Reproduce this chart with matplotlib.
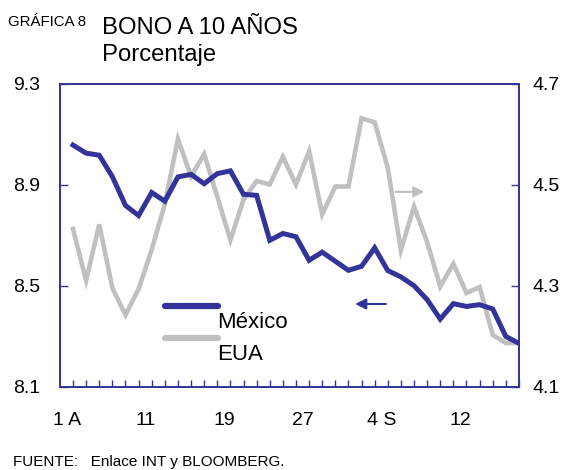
import numpy as np
import matplotlib
matplotlib.use('Agg')
import matplotlib.pyplot as plt
from matplotlib.lines import Line2D

plt.rcParams['font.family'] = ['Liberation Sans', 'DejaVu Sans']

# Bono a 10 años, datos diarios (agosto - septiembre)
mexico = [9.058, 9.026, 9.018, 8.933, 8.819, 8.779, 8.870, 8.836, 8.932, 8.942,
          8.905, 8.945, 8.956, 8.863, 8.859, 8.681, 8.708, 8.695, 8.602, 8.634,
          8.598, 8.562, 8.578, 8.651, 8.561, 8.536, 8.501, 8.446, 8.369, 8.430,
          8.419, 8.426, 8.409, 8.300, 8.273]
eua = [4.413, 4.311, 4.422, 4.296, 4.243, 4.294, 4.372, 4.462, 4.591, 4.517,
       4.561, 4.477, 4.391, 4.471, 4.508, 4.501, 4.556, 4.501, 4.567, 4.442,
       4.497, 4.497, 4.632, 4.624, 4.534, 4.371, 4.457, 4.387, 4.299, 4.344,
       4.286, 4.298, 4.203, 4.187, 4.187]
tick_idx = [0, 6, 12, 18, 24, 30]
tick_labels = ['1 A', '11', '19', '27', '4 S', '12']

azul = '#333399'
gris = '#c0c0c0'

fig = plt.figure(figsize=(5.65, 4.7), dpi=100)
ax = fig.add_axes([0.106, 0.1766, 0.8125, 0.6447])
ax2 = ax.twinx()

x = np.arange(len(mexico))
ax2.plot(x, eua, color=gris, lw=3.3, solid_joinstyle='miter', zorder=1)
ax.plot(x, mexico, color=azul, lw=3.6, solid_joinstyle='miter', zorder=2)
ax.set_zorder(ax2.get_zorder() + 1)
ax.patch.set_visible(False)

ax.set_xlim(-1, 34)
ax.set_ylim(8.1, 9.3)
ax2.set_ylim(4.1, 4.7)
ax.set_yticks([8.1, 8.5, 8.9, 9.3])
ax2.set_yticks([4.1, 4.3, 4.5, 4.7])
ax.set_xticks(x, minor=True)
ax.set_xticks([i - 0.45 for i in tick_idx])
ax.set_xticklabels(tick_labels)

for a in (ax, ax2):
    for s in a.spines.values():
        s.set_color(azul)
        s.set_linewidth(1.2)
ax.tick_params(axis='x', which='major', length=0, pad=18, labelsize=14)
ax.tick_params(axis='x', which='minor', direction='in', length=5, color=azul, width=1)
ax.tick_params(axis='y', direction='in', length=6, color=azul, width=1, labelsize=14, pad=14)
ax2.tick_params(axis='y', direction='in', length=6, color=azul, width=1, labelsize=14, pad=10)

# leyenda
ax.add_line(Line2D([0.229, 0.344], [0.268, 0.268], transform=ax.transAxes,
                   color=azul, lw=4.5, solid_capstyle='round'))
ax.add_line(Line2D([0.229, 0.344], [0.162, 0.162], transform=ax.transAxes,
                   color=gris, lw=4.5, solid_capstyle='round'))
ax.text(0.342, 0.212, 'México', transform=ax.transAxes, fontsize=16, va='center')
ax.text(0.342, 0.108, 'EUA', transform=ax.transAxes, fontsize=16, va='center')

# flechas de eje
ax.annotate('', xy=(0.637, 0.274), xytext=(0.716, 0.274), xycoords='axes fraction',
            arrowprops=dict(arrowstyle='-|>', color=azul, lw=1.5, mutation_scale=16))
ax.annotate('', xy=(0.800, 0.644), xytext=(0.725, 0.644), xycoords='axes fraction',
            arrowprops=dict(arrowstyle='-|>', color=gris, lw=1.5, mutation_scale=16))

fig.text(0.014, 0.953, 'GRÁFICA 8', fontsize=10.8, va='center')
fig.text(0.181, 0.940, 'BONO A 10 AÑOS', fontsize=17.2, va='center')
fig.text(0.181, 0.882, 'Porcentaje', fontsize=17.2, va='center')
fig.text(0.023, 0.017, 'FUENTE:   Enlace INT y BLOOMBERG.', fontsize=11, va='center')

fig.savefig('out.png', dpi=100)
